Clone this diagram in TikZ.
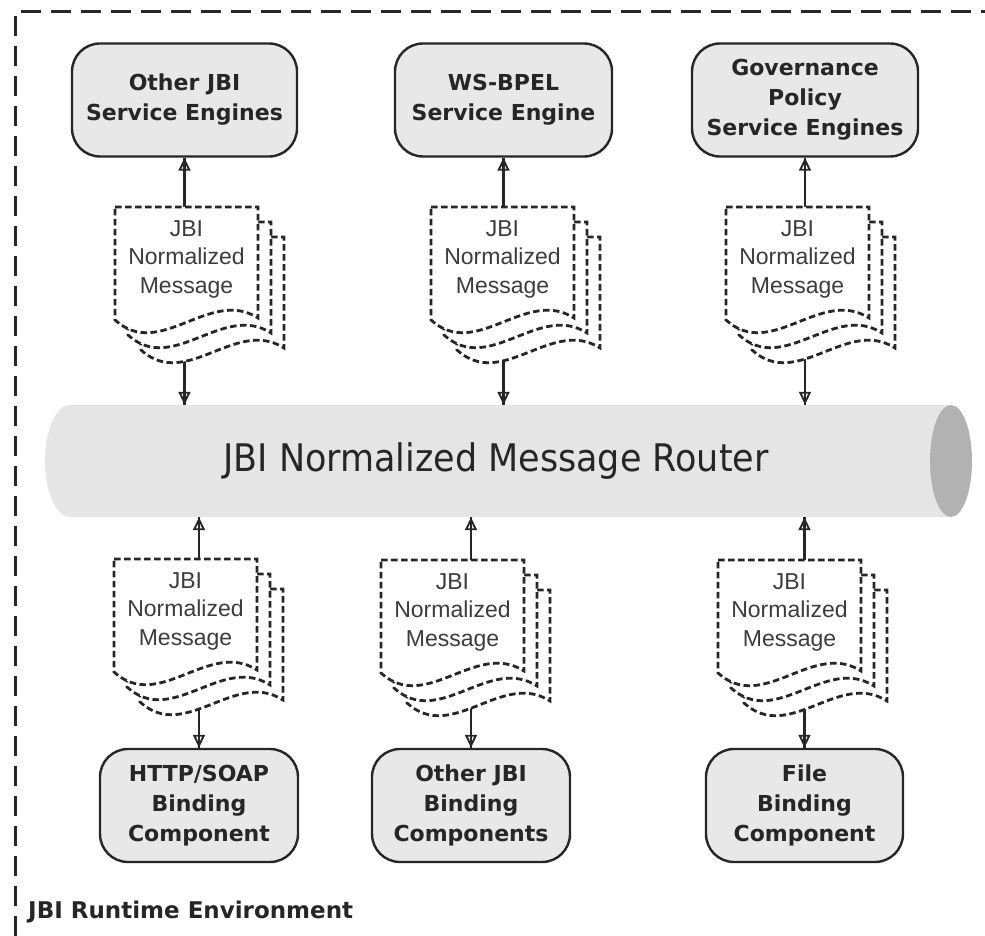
\documentclass[tikz,border=0pt]{standalone}
\usepackage{fontspec}
\setmainfont{DejaVu Sans}
\newfontfamily\boxfont{DejaVu Sans}
\newfontfamily\msgfont{Liberation Sans}
\newfontfamily\routerfont{DejaVu Sans}[FakeStretch=0.92]
\usetikzlibrary{arrows.meta,calc}
\pgfdeclarelayer{bg}
\pgfsetlayers{bg,main}
\definecolor{boxfill}{HTML}{E8E8E8}
\definecolor{tubefill}{HTML}{E5E5E5}
\definecolor{capfill}{HTML}{B2B2B2}
\definecolor{ink}{HTML}{262626}
\definecolor{msgink}{HTML}{3C3C3C}

\tikzset{
  engine/.style={draw=ink, line width=2.4pt, fill=boxfill, rounded corners=28pt,
    minimum height=113pt, inner sep=0pt, align=center,
    font=\boxfont\bfseries\fontsize{22}{30}\selectfont, text=ink},
  page/.style={draw=ink, line width=2.8pt, dash pattern=on 6.5pt off 3.5pt, fill=white},
  pagebox/.style={minimum width=143pt, minimum height=113pt, inner sep=0pt, anchor=north west},
  msgtext/.style={align=center, font=\msgfont\fontsize{23}{28.5}\selectfont, text=msgink, inner sep=0pt},
  flow/.style={draw=ink, line width=2.3pt,
    -{Triangle[open, length=13pt, width=12pt, line width=1.9pt]},
    postaction={draw=ink, line width=2.3pt, -}},
  frame/.style={draw=ink, line width=3pt, dash pattern=on 20pt off 10pt},
}

% a stack of three dashed message sheets; #1 names the front sheet
\newcommand\msgstack[3]{%
  \begin{scope}[shift={(#2,#3)}]
    \path[page] (26,30) -- (169,30) -- (169,141) .. controls (121,110) and (71,184) .. (26,143) -- cycle;
    \path[page] (13,15) -- (156,15) -- (156,126) .. controls (108,95) and (58,169) .. (13,128) -- cycle;
    \path[page] (0,0) -- (143,0) -- (143,111) .. controls (95,80) and (45,154) .. (0,113) -- cycle;
    \node[pagebox] (#1) at (0,0) {};
    \node[msgtext] at (71.5,52) {JBI\\Normalized\\Message};
  \end{scope}}

\begin{document}
\begin{tikzpicture}[x=1pt,y=-1pt]
\useasboundingbox (0,0) rectangle (985,936);

% service engines
\node[engine, minimum width=225pt] (topA) at (184.5,100) {Other JBI\\Service Engines};
\node[engine, minimum width=217pt] (topB) at (503.5,100) {WS-BPEL\\Service Engine};
\node[engine, minimum width=226pt] (topC) at (805,100) {Governance\\Policy\\Service Engines};

% binding components
\node[engine, minimum width=198pt] (botA) at (199,805.5) {HTTP/SOAP\\Binding\\Component};
\node[engine, minimum width=198pt] (botB) at (471,805.5) {Other JBI\\Binding\\Components};
\node[engine, minimum width=197pt] (botC) at (804.5,805.5) {File\\Binding\\Component};

% normalized messages
\msgstack{docA}{115}{207}
\msgstack{docB}{431}{207}
\msgstack{docC}{726}{207}
\msgstack{docD}{114}{559}
\msgstack{docE}{381}{560}
\msgstack{docF}{718}{560}

\begin{pgfonlayer}{bg}
  % message router tube
  \node[minimum width=928pt, minimum height=112pt, inner sep=0pt] (router) at (509,461) {};
  \fill[tubefill] (70,461) ellipse[x radius=25, y radius=56];
  \fill[tubefill] (70,405) rectangle (951,517);
  \fill[capfill] (951,461) ellipse[x radius=21, y radius=56];

  % message flows
  \draw[flow] (docA.north -| topA.south) -- (topA.south);
  \draw[flow] (docB.north -| topB.south) -- (topB.south);
  \draw[flow] (docC.north -| topC.south) -- (topC.south);
  \draw[flow] (docA.south -| topA.south) -- (router.north -| topA.south);
  \draw[flow] (docB.south -| topB.south) -- (router.north -| topB.south);
  \draw[flow] (docC.south -| topC.south) -- (router.north -| topC.south);
  \draw[flow] (docD.north -| botA.north) -- (router.south -| botA.north);
  \draw[flow] (docE.north -| botB.north) -- (router.south -| botB.north);
  \draw[flow] (docF.north -| botC.north) -- (router.south -| botC.north);
  \draw[flow] (docD.south -| botA.north) -- (botA.north);
  \draw[flow] (docE.south -| botB.north) -- (botB.north);
  \draw[flow] (docF.south -| botC.north) -- (botC.north);
\end{pgfonlayer}

\node[font=\routerfont\fontsize{38}{44}\selectfont, text=ink, inner sep=0pt] (routerlabel) at (496,461) {JBI Normalized Message Router};

% runtime environment boundary
\draw[frame] (15,936) -- (15,12) -- (985,12);
\node[anchor=base west, inner sep=0pt, font=\bfseries\fontsize{23}{27}\selectfont, text=ink] (envlabel) at (28,918) {JBI Runtime Environment};
\end{tikzpicture}
\end{document}
